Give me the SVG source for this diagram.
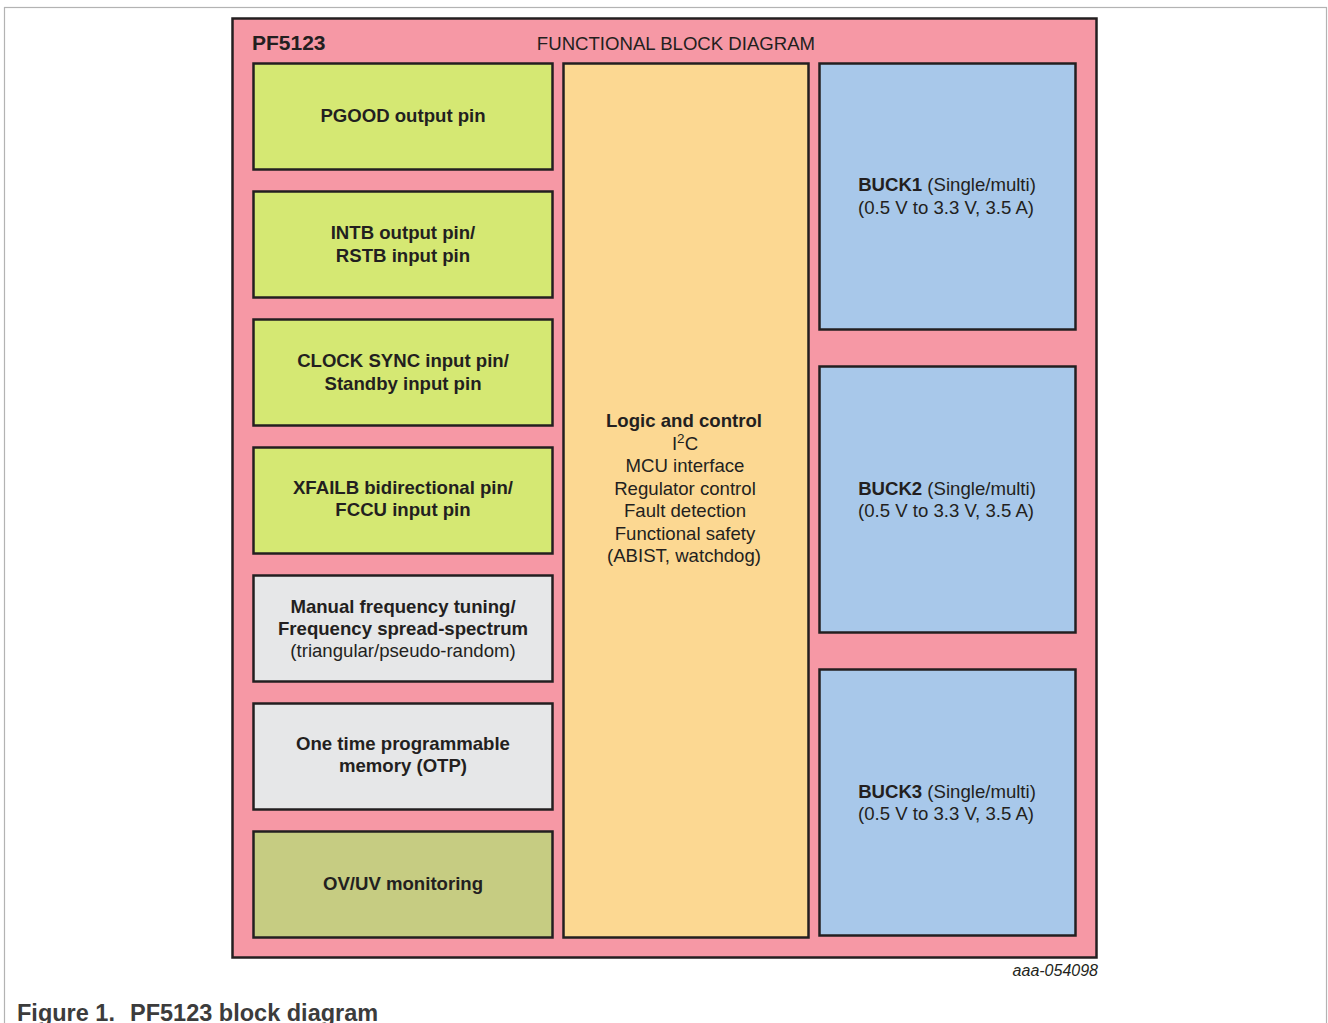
<svg xmlns="http://www.w3.org/2000/svg" width="1328" height="1023" viewBox="0 0 1328 1023">
<style>
text{font-family:"Liberation Sans",Arial,sans-serif;font-size:18.6px;fill:#231f20;text-anchor:middle}
.b{font-weight:bold}
.box{stroke:#231f20;stroke-width:2.5}
.g{fill:#d5e873}.gr{fill:#e6e7e8}.ol{fill:#c6cc82}.bl{fill:#a8c8ea}.or{fill:#fcd892}
</style>
<rect x="4.5" y="7.5" width="1322" height="1030" fill="#fff" stroke="#b3b3b3" stroke-width="1.2"/>
<g id="pf5123">
<rect class="box" x="232.5" y="18.5" width="864" height="939" fill="#f698a5"/>
<text x="252" y="50" class="b" style="text-anchor:start;font-size:21px">PF5123</text>
<text x="676" y="50">FUNCTIONAL BLOCK DIAGRAM</text>
</g>
<g id="pgood"><rect class="box g" x="253.5" y="63.5" width="299" height="106"/><text x="403" y="122" class="b">PGOOD output pin</text></g>
<g id="intb"><rect class="box g" x="253.5" y="191.5" width="299" height="106"/><text x="403" y="239" class="b">INTB output pin/</text><text x="403" y="262" class="b">RSTB input pin</text></g>
<g id="clock"><rect class="box g" x="253.5" y="319.5" width="299" height="106"/><text x="403" y="367" class="b">CLOCK SYNC input pin/</text><text x="403" y="390" class="b">Standby input pin</text></g>
<g id="xfailb"><rect class="box g" x="253.5" y="447.5" width="299" height="106"/><text x="403" y="494" class="b">XFAILB bidirectional pin/</text><text x="403" y="516" class="b">FCCU input pin</text></g>
<g id="freq"><rect class="box gr" x="253.5" y="575.5" width="299" height="106"/><text x="403" y="613" class="b">Manual frequency tuning/</text><text x="403" y="635" class="b">Frequency spread-spectrum</text><text x="403" y="657">(triangular/pseudo-random)</text></g>
<g id="otp"><rect class="box gr" x="253.5" y="703.5" width="299" height="106"/><text x="403" y="750" class="b">One time programmable</text><text x="403" y="772" class="b">memory (OTP)</text></g>
<g id="ovuv"><rect class="box ol" x="253.5" y="831.5" width="299" height="106"/><text x="403" y="890" class="b">OV/UV monitoring</text></g>
<g id="logic"><rect class="box or" x="563.5" y="63.5" width="245" height="874"/>
<text x="684" y="427" class="b">Logic and control</text>
<text x="685" y="450">I<tspan dy="-7" style="font-size:13.5px">2</tspan><tspan dy="7">C</tspan></text>
<text x="685" y="472">MCU interface</text>
<text x="685" y="495">Regulator control</text>
<text x="685" y="517">Fault detection</text>
<text x="685" y="540">Functional safety</text>
<text x="684" y="562">(ABIST, watchdog)</text>
</g>
<g id="buck1"><rect class="box bl" x="819.5" y="63.5" width="256" height="266"/><text x="947" y="191"><tspan class="b">BUCK1</tspan> (Single/multi)</text><text x="946" y="214">(0.5 V to 3.3 V, 3.5 A)</text></g>
<g id="buck2"><rect class="box bl" x="819.5" y="366.5" width="256" height="266"/><text x="947" y="495"><tspan class="b">BUCK2</tspan> (Single/multi)</text><text x="946" y="517">(0.5 V to 3.3 V, 3.5 A)</text></g>
<g id="buck3"><rect class="box bl" x="819.5" y="669.5" width="256" height="266"/><text x="947" y="798"><tspan class="b">BUCK3</tspan> (Single/multi)</text><text x="946" y="820">(0.5 V to 3.3 V, 3.5 A)</text></g>
<g id="connectors"></g>
<text x="1098" y="976" style="text-anchor:end;font-style:italic;font-size:16px">aaa-054098</text>
<text x="17" y="1021" class="b" style="text-anchor:start;font-size:23.5px;fill:#3c3c3c">Figure 1.</text>
<text x="130" y="1021" class="b" style="text-anchor:start;font-size:23.5px;fill:#3c3c3c">PF5123 block diagram</text>
</svg>
